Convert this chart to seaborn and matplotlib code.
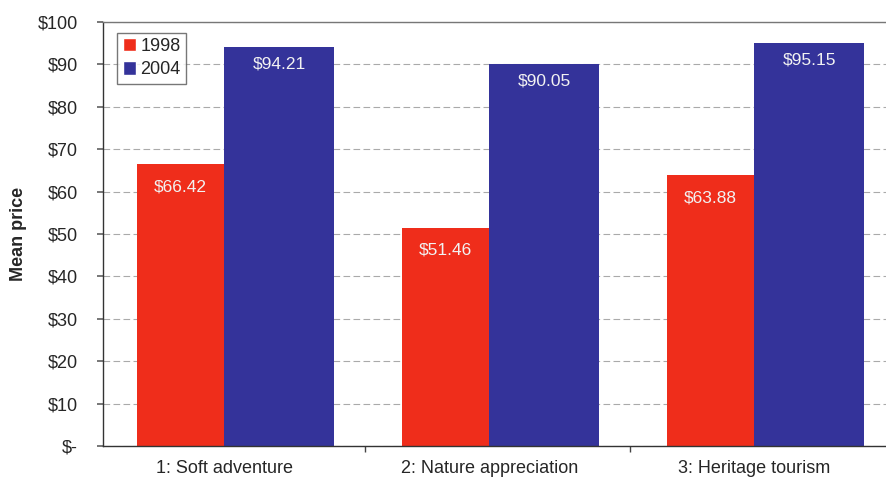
import matplotlib
matplotlib.use("Agg")
import matplotlib.pyplot as plt
import seaborn as sns
import pandas as pd

categories = ["1: Soft adventure", "2: Nature appreciation", "3: Heritage tourism"]
years = ["1998", "2004"]
prices_1998 = [66.42, 51.46, 63.88]
prices_2004 = [94.21, 90.05, 95.15]
ytick_values = [0, 10, 20, 30, 40, 50, 60, 70, 80, 90, 100]
ytick_labels = ["$-", "$10", "$20", "$30", "$40", "$50", "$60", "$70", "$80", "$90", "$100"]

df = pd.DataFrame({
    "category": categories * 2,
    "year": [years[0]] * 3 + [years[1]] * 3,
    "price": prices_1998 + prices_2004,
})

sns.set_theme(style="white")
plt.rcParams["font.family"] = ["Liberation Sans", "DejaVu Sans"]

colors = {"1998": "#ef2d1b", "2004": "#34339a"}
FS = 13

fig = plt.figure(figsize=(8.87, 4.82), dpi=100)
ax = fig.add_axes([103 / 887, 1 - 446 / 482, (887 - 103) / 887, (446 - 22) / 482])

sns.barplot(data=df, x="category", y="price", hue="year", palette=colors,
            order=categories, hue_order=years, width=0.75, ax=ax,
            saturation=1, legend=True)

# adjust bar geometry (red slightly narrower, as in the reference)
for cont, year in zip(ax.containers, years):
    for i, p in enumerate(cont.patches):
        if year == "1998":
            p.set_x(i - 0.33)
            p.set_width(0.33)
        else:
            p.set_x(i)
            p.set_width(0.415)
        p.set_edgecolor("none")

# value labels
for cont, vals, off in zip(ax.containers, [prices_1998, prices_2004], [5.3, 4.0]):
    for p, v in zip(cont.patches, vals):
        ax.text(p.get_x() + p.get_width() / 2, v - off, f"${v:.2f}",
                ha="center", va="center", color="#f2f2f2", fontsize=12.5)

ax.set_xlim(-0.457, 2.5)
ax.set_ylim(0, 100)
ax.set_yticks(ytick_values)
ax.set_yticklabels(ytick_labels, fontsize=FS)
ax.set_xticks([0.53, 1.53], minor=True)
ax.tick_params(axis="x", which="major", labelsize=FS, pad=10, length=0)
ax.tick_params(axis="x", which="minor", length=4, direction="out",
               color="#444444", bottom=True)
ax.tick_params(axis="y", pad=14, length=4, direction="out", color="#666666", left=True)
for lab in ax.get_yticklabels():
    lab.set_horizontalalignment("right")
ax.set_xlabel("")
ax.set_ylabel("Mean price", fontsize=FS, fontweight="bold", labelpad=8)

ax.yaxis.grid(True, color="#aaaaaa", linestyle=(0, (6, 3)), linewidth=0.8)
ax.set_axisbelow(True)
for side in ["left", "top", "bottom"]:
    ax.spines[side].set_visible(True)
    ax.spines[side].set_color("#333333")
    ax.spines[side].set_linewidth(1.0)
ax.spines["top"].set_color("#777777")
ax.spines["right"].set_visible(False)

leg = ax.legend(loc="upper left", bbox_to_anchor=(0.018, 0.975), fontsize=FS,
                frameon=True, fancybox=False, edgecolor="#555555",
                handlelength=0.75, handleheight=0.75, handletextpad=0.25,
                borderpad=0.3, labelspacing=0.35, borderaxespad=0)
leg.get_frame().set_linewidth(1.0)

fig.savefig("out.png", dpi=100)
